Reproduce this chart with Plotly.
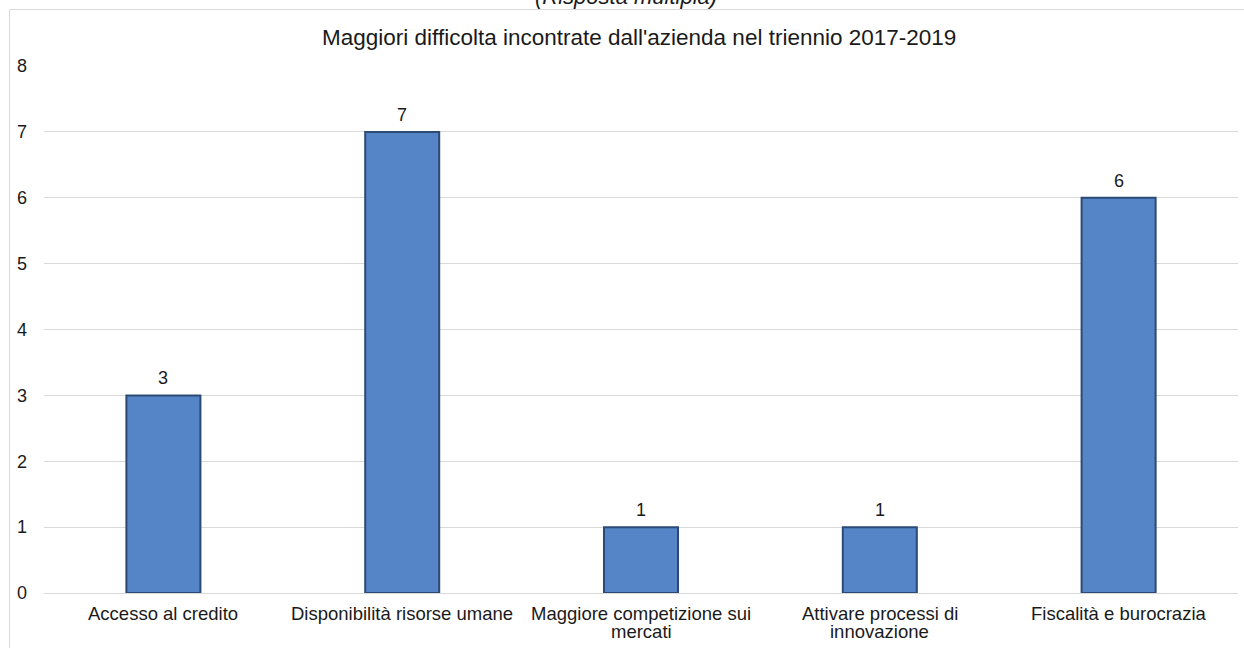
import plotly.graph_objects as go

categories = [
    "Accesso al credito",
    "Disponibilità risorse umane",
    "Maggiore competizione sui<br>mercati",
    "Attivare processi di<br>innovazione",
    "Fiscalità e burocrazia",
]
values = [3, 7, 1, 1, 6]
y_ticks = [0, 1, 2, 3, 4, 5, 6, 7, 8]

title_text = "Maggiori difficolta incontrate dall'azienda nel triennio 2017-2019"
subtitle_text = "(Risposta multipla)"

FONT = "Liberation Sans, Arial, sans-serif"
GRID = "#D9D9D9"
TEXT = "#1a1a1a"

# page geometry (pixels)
W, H = 1244, 648
L, R, T, B = 44, 6, 66, 55
plot_w = W - L - R
plot_h = H - T - B


def px_x(p):
    return (p - L) / plot_w


def px_y(p):
    return (H - B - p) / plot_h


fig = go.Figure()

fig.add_trace(go.Bar(
    x=categories,
    y=values,
    width=0.31,
    marker=dict(color="#5585C6", line=dict(color="#2B4A75", width=2)),
    hoverinfo="x+y",
))

# value labels above each bar
value_labels = [
    dict(x=c, y=v, xref="x", yref="y", text=str(v), showarrow=False,
         xanchor="center", yanchor="bottom", yshift=5,
         font=dict(family=FONT, size=18, color=TEXT))
    for c, v in zip(categories, values)
]

# category labels under the axis, one annotation per line for tight leading
category_labels = []
for c in categories:
    for i, line in enumerate(c.split("<br>")):
        category_labels.append(dict(
            x=c, y=0, xref="x", yref="y", text=line, showarrow=False,
            xanchor="center", yanchor="middle", yshift=-20 - 18 * i,
            font=dict(family=FONT, size=18.5, color=TEXT)))

fig.update_layout(
    width=W,
    height=H,
    margin=dict(l=L, r=R, t=T, b=B, pad=0, autoexpand=False),
    paper_bgcolor="white",
    plot_bgcolor="white",
    showlegend=False,
    font=dict(family=FONT, size=18, color=TEXT),
    xaxis=dict(
        type="category",
        automargin=False,
        showgrid=False,
        showline=True,
        linecolor=GRID,
        linewidth=1,
        ticks="",
        showticklabels=False,
    ),
    yaxis=dict(
        range=[0, 8],
        automargin=False,
        tickvals=y_ticks,
        showgrid=True,
        gridcolor=GRID,
        gridwidth=1,
        zeroline=False,
        showline=False,
        ticks="",
        tickfont=dict(family=FONT, size=18, color=TEXT),
        ticklabelstandoff=16,
    ),
    shapes=[
        # outer chart frame (top and left edges)
        dict(type="line", xref="paper", yref="paper",
             x0=px_x(9.5), x1=px_x(W + 5), y0=px_y(9.5), y1=px_y(9.5),
             line=dict(color=GRID, width=1)),
        dict(type="line", xref="paper", yref="paper",
             x0=px_x(9.5), x1=px_x(9.5), y0=px_y(9.5), y1=px_y(H + 5),
             line=dict(color=GRID, width=1)),
    ],
    annotations=value_labels + category_labels + [
        dict(text=title_text, xref="paper", yref="paper",
             x=px_x(639), y=px_y(37), xanchor="center", yanchor="middle",
             showarrow=False, font=dict(family=FONT, size=22.5, color=TEXT)),
        dict(text="<i>" + subtitle_text + "</i>", xref="paper", yref="paper",
             x=px_x(626), y=px_y(-4), xanchor="center", yanchor="middle",
             showarrow=False, font=dict(family=FONT, size=22, color=TEXT)),
    ],
)

fig.write_html("out.html")
